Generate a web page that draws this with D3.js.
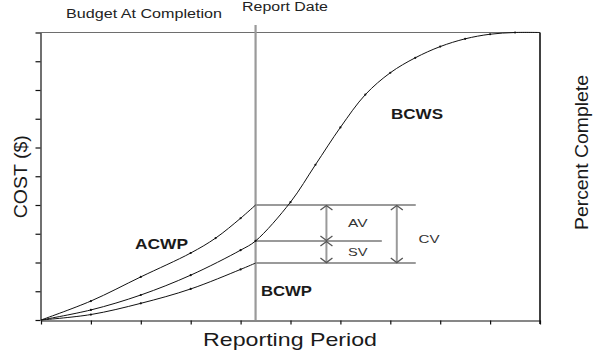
<!DOCTYPE html>
<html>
<head>
<meta charset="utf-8">
<script src="https://cdn.jsdelivr.net/npm/d3@7"></script>
<style>
  html, body { margin: 0; padding: 0; background: #fff; }
  svg { display: block; font-family: "Liberation Sans", Arial, sans-serif; }
</style>
</head>
<body>
<svg id="chart" width="603" height="352"></svg>
<script>
// ---- data (periods on x, percent of budget on y) ----
const reportDate = 4.3;
const bcwsPeriods = [0, 1, 2, 3, 4, 4.3, 5, 5.5, 6, 6.5, 7, 7.5, 8, 8.5, 9, 9.5, 10];
const bcwsValues  = [0, 3.5, 8.7, 15.6, 24.3, 27.5, 41, 54, 67, 78.4, 86, 91.2, 95.1, 97.8, 99.4, 100, 100];
const acwpPeriods = [0, 1, 2, 3, 3.5, 4, 4.3];
const acwpValues  = [0, 6.6, 15, 23.3, 28.5, 35.4, 40];
const bcwpPeriods = [0, 1, 2, 3, 4, 4.3];
const bcwpValues  = [0, 1.9, 5.8, 10.8, 17.6, 19.8];
const budgetAtCompletion = 100;
const xTickCount = 10;
const yTickCount = 10;

// ---- layout ----
const svg = d3.select("#chart");
const x = d3.scaleLinear().domain([0, 10]).range([41, 540]);
const y = d3.scaleLinear().domain([0, 100]).range([320, 32.5]);
const varTopEnd = 7.51, varMidEnd = 6.83, avArrowX = 5.72, cvArrowX = 7.13;

const gray = "#9a9a9a";
const ink = "#111";

// Axes
const yAxis = d3.axisLeft(y).ticks(yTickCount).tickSize(5).tickSizeOuter(0).tickFormat("");
const gy = svg.append("g").attr("transform", "translate(40.5,0)").call(yAxis);
gy.selectAll("line,path").attr("stroke", ink).attr("stroke-width", 1.2);

const xAxis = d3.axisBottom(x).ticks(xTickCount).tickSize(4).tickSizeOuter(0).tickFormat("");
const gx = svg.append("g").attr("transform", "translate(0,320.5)").call(xAxis);
gx.selectAll("line,path").attr("stroke", ink).attr("stroke-width", 1.2);

// Right border
svg.append("line").attr("x1", x(10)).attr("x2", x(10)).attr("y1", y(100)).attr("y2", 324)
  .attr("stroke", ink).attr("stroke-width", 1.6);

// Budget At Completion line (top)
svg.append("line").attr("x1", 36).attr("x2", x(10)).attr("y1", y(budgetAtCompletion)).attr("y2", y(budgetAtCompletion))
  .attr("stroke", "#6e6e6e").attr("stroke-width", 1.2);

// Report date line
svg.append("line").attr("x1", x(reportDate)).attr("x2", x(reportDate)).attr("y1", 25).attr("y2", 320)
  .attr("stroke", gray).attr("stroke-width", 2.2);

// Variance reference lines
const acwpAtReport = acwpValues[acwpValues.length - 1];
const bcwpAtReport = bcwpValues[bcwpValues.length - 1];
const bcwsAtReport = bcwsValues[bcwsPeriods.indexOf(reportDate)];
[[acwpAtReport, varTopEnd], [bcwsAtReport, varMidEnd], [bcwpAtReport, varTopEnd]].forEach(([v, end]) => {
  svg.append("line").attr("x1", x(reportDate)).attr("x2", x(end)).attr("y1", y(v)).attr("y2", y(v))
    .attr("stroke", gray).attr("stroke-width", 2);
});

// Arrows
function vArrow(px, v1, v2) {
  const y1 = y(v1), y2 = y(v2);
  svg.append("line").attr("x1", px).attr("x2", px).attr("y1", y1).attr("y2", y2)
    .attr("stroke", gray).attr("stroke-width", 2);
  const hw = 6, hh = 5;
  const top = Math.min(y1, y2), bot = Math.max(y1, y2);
  svg.append("path").attr("d", `M${px - hw},${top + hh} L${px},${top + 0.5} L${px + hw},${top + hh}`)
    .attr("fill", "none").attr("stroke", "#555").attr("stroke-width", 1.3);
  svg.append("path").attr("d", `M${px - hw},${bot - hh} L${px},${bot - 0.5} L${px + hw},${bot - hh}`)
    .attr("fill", "none").attr("stroke", "#555").attr("stroke-width", 1.3);
}
vArrow(x(avArrowX), acwpAtReport, bcwsAtReport);
vArrow(x(avArrowX), bcwsAtReport, bcwpAtReport);
vArrow(x(cvArrowX), acwpAtReport, bcwpAtReport);

// Curves
const line = d3.line().x(d => x(d[0])).y(d => y(Math.min(d[1], 100))).curve(d3.curveCatmullRom.alpha(0.5));
function drawCurve(px, vals) {
  const pts = px.map((p, i) => [p, vals[i]]);
  svg.append("path").datum(pts).attr("d", line).attr("fill", "none").attr("stroke", ink).attr("stroke-width", 1);
  svg.append("g").selectAll("circle").data(pts.slice(1, -1)).join("circle")
    .attr("cx", d => x(d[0])).attr("cy", d => y(d[1])).attr("r", 1.1).attr("fill", ink);
}
drawCurve(bcwsPeriods, bcwsValues);
drawCurve(acwpPeriods, acwpValues);
drawCurve(bcwpPeriods, bcwpValues);

// Texts
function txt(s, px, py, size, len, opts = {}) {
  const t = svg.append("text").attr("x", px).attr("y", py).attr("font-size", size)
    .attr("fill", opts.fill || "#1a1a1a").text(s);
  if (opts.bold) t.attr("font-weight", "bold");
  if (len) t.attr("textLength", len).attr("lengthAdjust", "spacingAndGlyphs");
  return t;
}
txt("Budget At Completion", 66, 18.3, 12.5, 156, { fill: "#222" });
txt("Report Date", 242, 10.5, 12.5, 86, { fill: "#222" });
txt("Reporting Period", 203, 345.7, 19, 174);
txt("BCWS", 391, 119.3, 14, 52, { bold: true });
txt("ACWP", 135, 249, 14, 53, { bold: true });
txt("BCWP", 261, 296, 14, 51, { bold: true });
txt("AV", 348, 227.3, 11.5, 19.5, { fill: "#333" });
txt("SV", 348, 256, 11.5, 19.5, { fill: "#333" });
txt("CV", 418.5, 243.3, 11, 21, { fill: "#333" });

svg.append("text").attr("transform", "translate(27,176.7) rotate(-90)").attr("text-anchor", "middle")
  .attr("font-size", 19).attr("fill", "#1a1a1a").attr("textLength", 83).attr("lengthAdjust", "spacingAndGlyphs")
  .text("COST ($)");
svg.append("text").attr("transform", "translate(588,152.5) rotate(-90)").attr("text-anchor", "middle")
  .attr("font-size", 19).attr("fill", "#1a1a1a").attr("textLength", 155).attr("lengthAdjust", "spacingAndGlyphs")
  .text("Percent Complete");
</script>
</body>
</html>
